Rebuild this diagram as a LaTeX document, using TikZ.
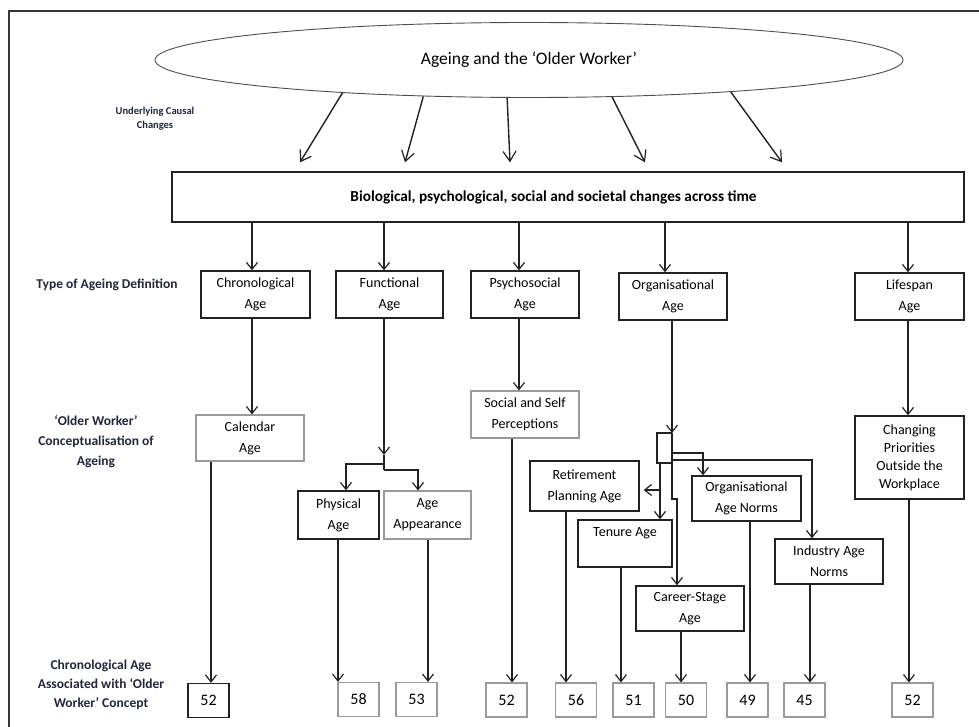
\documentclass[tikz,border=0pt]{standalone}
\usepackage{fontspec}
\setmainfont{Carlito}
\usetikzlibrary{arrows.meta,shapes.geometric,calc}
\definecolor{lnc}{HTML}{222222}
\definecolor{gbc}{HTML}{9A9A9A}
\definecolor{labc}{HTML}{22263A}
\begin{document}
\begin{tikzpicture}[x=1pt,y=-1pt,
  bx/.style={draw=lnc,line width=1.3pt,inner sep=0pt,align=center,font=\fontsize{14}{21}\selectfont},
  gbx/.style={bx,draw=gbc,line width=1.1pt},
  nb/.style={draw=gbc,line width=1.1pt,inner sep=0pt,minimum width=41pt,minimum height=34pt,font=\fontsize{16}{18}\selectfont},
  arr/.style={draw=lnc,line width=1.4pt,-{Straight Barb[length=7pt,width=11pt,line width=1.2pt]}},
  arrB/.style={draw=lnc,line width=1.4pt,-{Straight Barb[length=10pt,width=13pt,line width=1.2pt]}},
  lne/.style={draw=lnc,line width=1.4pt},
  side/.style={align=center,text=labc,font=\fontsize{13.5}{20}\selectfont\bfseries},
]
\useasboundingbox (0,0) rectangle (979,727);
% outer frame
\draw[draw=lnc!90,line width=1.4pt] (9,727) -- (9,11) -- (979,11);

% title ellipse
\node[draw=lnc!80,line width=0.9pt,ellipse,minimum width=748pt,minimum height=75pt,inner sep=0pt,
      font=\fontsize{17.5}{20}\selectfont] (ell) at (529,60) {Ageing and the ‘Older Worker’};

% big box
\node[draw=lnc,line width=1.3pt,inner sep=0pt,minimum width=792pt,minimum height=50pt,
      font=\fontsize{15.3}{18}\selectfont\bfseries] (big) at (568,197)
      {Biological, psychological, social and societal changes across time\hspace*{29pt}};

% side labels
\node[side,font=\fontsize{10.5}{14}\selectfont\bfseries] (l0) at (155,119) {Underlying Causal\\Changes};
\node[side] (l1) at (107,285) {Type of Ageing Definition};
\node[side] (l2) at (96,442) {‘Older Worker’\\Conceptualisation of\\Ageing};
\node[side,font=\fontsize{13.5}{19}\selectfont\bfseries] (l3) at (101,685) {Chronological Age\\Associated with ‘Older\\Worker’ Concept};

% type row
\node[bx,minimum width=109pt,minimum height=47pt] (chron) at (255.5,294.5) {Chronological\\Age};
\node[bx,minimum width=107pt,minimum height=47pt] (func) at (389.5,294.5) {Functional\\Age};
\node[bx,minimum width=108pt,minimum height=47pt] (psych) at (525,294.5) {Psychosocial\\Age};
\node[bx,minimum width=108pt,minimum height=47pt] (org) at (673,296.5) {Organisational\\Age};
\node[bx,minimum width=109pt,minimum height=47pt] (life) at (909.5,296.5) {Lifespan\\Age};

% concept row
\node[gbx,minimum width=108pt,minimum height=46pt] (cal) at (250,438) {Calendar\\Age};
\node[gbx,minimum width=108pt,minimum height=47pt] (ssp) at (525,414.5) {Social and Self\\Perceptions};
\node[bx,minimum width=109pt,minimum height=83pt,font=\fontsize{14}{18}\selectfont] (chp) at (909.5,457.5) {Changing\\Priorities\\Outside the\\Workplace};
\node[bx,minimum width=81pt,minimum height=48pt] (phys) at (338.5,515) {Physical\\Age};
\node[gbx,minimum width=87pt,minimum height=48pt] (appear) at (427.5,515) {Age\\Appearance};
\node[bx,minimum width=109pt,minimum height=50pt] (ret) at (584.5,486) {Retirement\\Planning Age};
\node[bx,minimum width=94pt,minimum height=47pt] (ten) at (625,543.5) {Tenure Age\\[2pt]\mbox{}};
\node[bx,minimum width=109pt,minimum height=45pt] (oan) at (746.5,498.5) {Organisational\\Age Norms};
\node[bx,minimum width=108pt,minimum height=45pt] (ian) at (829,561.5) {Industry Age\\Norms};
\node[bx,minimum width=108pt,minimum height=45pt] (csa) at (690,608.5) {Career-Stage\\Age};

% number boxes
\node[nb,draw=lnc,line width=1.3pt] (n1) at (208.5,700.5) {52};
\node[nb] (n2) at (358.5,699.5) {58};
\node[nb] (n3) at (416.5,699.5) {53};
\node[nb] (n4) at (506.5,700) {52};
\node[nb] (n5) at (576,700) {56};
\node[nb] (n6) at (633.5,700) {51};
\node[nb] (n7) at (686,700) {50};
\node[nb] (n8) at (747.5,700) {49};
\node[nb] (n9) at (804.5,700) {45};
\node[nb] (n10) at (912.5,700) {52};

% ellipse to big box
\draw[arrB] (ell.190.9) -- ([shift={(-268,-9)}]big.north);
\draw[arrB] (ell.199.7) -- ([shift={(-163,-9)}]big.north);
\draw[arrB] (ell.240.7) -- ([shift={(-58,-9)}]big.north);
\draw[arrB] (ell.336.2) -- ([shift={(77,-9)}]big.north);
\draw[arrB] (ell.351.9) -- ([shift={(214,-9)}]big.north);

% big box to type row
\draw[arr] ([xshift=-3.5pt]chron.north |- big.south) -- ([xshift=-3.5pt]chron.north);
\draw[arr] ([xshift=-5.5pt]func.north |- big.south) -- ([xshift=-5.5pt]func.north);
\draw[arr] ([xshift=-6pt]psych.north |- big.south) -- ([xshift=-6pt]psych.north);
\draw[arr] ([xshift=-8pt]org.north |- big.south) -- ([xshift=-8pt]org.north);
\draw[arr] ([xshift=-1.5pt]life.north |- big.south) -- ([xshift=-1.5pt]life.north);

% type row to concept row
\draw[arr] ([xshift=-3.5pt]chron.south) -- ([xshift=-3.5pt]chron.south |- cal.north);
\draw[arr] ([xshift=-6pt]psych.south) -- ([xshift=-6pt]psych.south |- ssp.north);
\draw[arr] ([xshift=-1.5pt]life.south) -- ([xshift=-1.5pt]life.south |- chp.north);

% functional fork
\coordinate (fj) at (384,455);
\coordinate (fL) at (384,464);
\coordinate (fR) at (384,470);
\draw[arr] ([xshift=-5.5pt]func.south) -- (fj);
\draw[lne] (fj) -- (fR);
\draw[arr] (fL) -| ([xshift=7.5pt]phys.north);
\draw[arr] (fR) -| ([xshift=-9.5pt]appear.north);

% organisational fork
\coordinate (oT) at (672,380);
\coordinate (oT2) at (672,427);
\coordinate (oj) at (672,433);
\coordinate (q1) at (657,463);
\coordinate (q2) at (672,463);
\coordinate (tj) at (660,463);
\coordinate (tj2) at (660,490);
\coordinate (rj) at (660,490);
\coordinate (oa) at (672,453);
\coordinate (ia) at (672,460);
\coordinate (cs1) at (672,499);
\coordinate (cs2) at (677,499);
\draw[arr] ([xshift=-1pt]org.south) -- (oj);
\draw[draw=lnc,line width=2.4pt] (oT) -- (oT2);
\draw[lne] (oj) -| (q1) -- (q2);
\draw[arr] (tj) -- ([xshift=35pt]ten.north);
\draw[draw=lnc,line width=2.4pt] (tj) -- (tj2);
\draw[arr,shorten >=4pt] (rj) -- (rj -| ret.east);
\draw[arr] (oa) -| ([xshift=-43.5pt]oan.north);
\draw[arr] (ia) -| ([xshift=-17pt]ian.north);
\draw[arr] (oj) -- (cs1) -- (cs2) -- ([xshift=-13pt]csa.north);

% to number boxes
\draw[arr] ([xshift=2.5pt]n1.north |- cal.south) -- ([xshift=2.5pt]n1.north);
\draw[arr] ([xshift=-20.5pt]n2.north |- phys.south) -- ([xshift=-20.5pt]n2.north);
\draw[arr] ([xshift=11.5pt]n3.north |- appear.south) -- ([xshift=11.5pt]n3.north);
\draw[arr] ([xshift=5.5pt]n4.north |- ssp.south) -- ([xshift=5.5pt]n4.north);
\draw[arr] ([xshift=-10pt]n5.north |- ret.south) -- ([xshift=-10pt]n5.north);
\draw[arr] ([xshift=-12.5pt]n6.north |- ten.south) -- ([xshift=-12.5pt]n6.north);
\draw[arr] ([xshift=-5pt]n7.north |- csa.south) -- ([xshift=-5pt]n7.north);
\draw[arr] ([xshift=2.5pt]n8.north |- oan.south) -- ([xshift=2.5pt]n8.north);
\draw[arr] ([xshift=5.5pt]n9.north |- ian.south) -- ([xshift=5.5pt]n9.north);
\draw[arr] ([xshift=-3.5pt]n10.north |- chp.south) -- ([xshift=-3.5pt]n10.north);
\end{tikzpicture}
\end{document}
